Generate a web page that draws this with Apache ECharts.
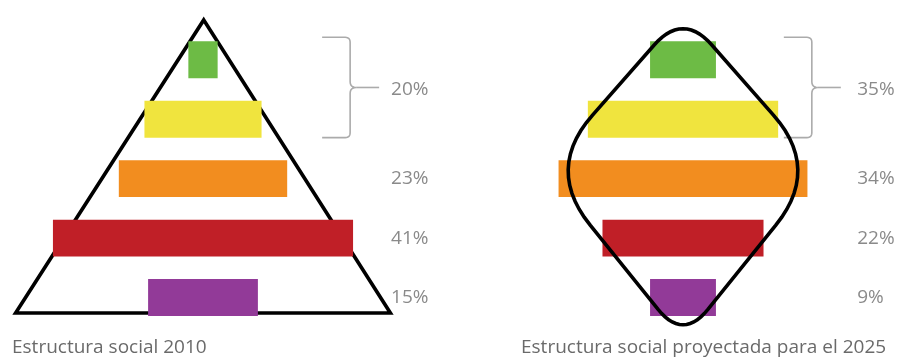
<!DOCTYPE html>
<html>
<head>
<meta charset="utf-8">
<script src="https://cdn.jsdelivr.net/npm/echarts@6/dist/echarts.min.js"></script>
<style>
  html, body { margin: 0; padding: 0; background: #fff; }
  #chart { width: 898px; height: 357px; }
</style>
</head>
<body>
<div id="chart"></div>
<script>
// Social strata, top to bottom
const strata = ['Alta', 'Media alta', 'Media', 'Media baja', 'Baja'];
// Share of population per stratum (%)
const values2010 = [4, 16, 23, 41, 15];
const values2025 = [9, 26, 34, 22, 9];
// Strata whose shares are reported together in one label
const labelGroups = [[0, 1], [2], [3], [4]];
const barColors = ['#6dbb45', '#f0e43e', '#f28d1f', '#c01f27', '#923a98'];
const titles = ['Estructura social 2010', 'Estructura social proyectada para el 2025'];

// Outline shapes in axis units (x: % share, y: stratum row); corner rounding in px
const triangleOutline = { points: [[0.1, -0.67], [25.6, 4.26], [-25.6, 4.26]], round: [0, 0, 0], above: false };
const diamondOutline = { points: [[0, -0.8], [18.85, 1.84], [0, 4.72], [-18.85, 1.84]], round: [44, 72, 40, 72], above: true };

const panels = [
  { values: values2010, gridLeft: 5.36, braceX: 20.1, labelX: 25.7, outline: triangleOutline, title: titles[0], titleLeft: 12 },
  { values: values2025, gridLeft: 485.36, braceX: 17.6, labelX: 23.8, outline: diamondOutline, title: titles[1], titleLeft: 521 }
];

const LABEL_COLOR = '#8a8a8a';
const BRACE_COLOR = '#ababab';
const FONT = '"Open Sans", "Noto Sans", sans-serif';

function quadPoints(p0, c, p1, n) {
  const out = [];
  for (let k = 1; k <= n; k++) {
    const t = k / n, u = 1 - t;
    out.push([u * u * p0[0] + 2 * u * t * c[0] + t * t * p1[0],
              u * u * p0[1] + 2 * u * t * c[1] + t * t * p1[1]]);
  }
  return out;
}

// Closed polygon with rounded corners (quadratic corners of given reach in px)
function roundedPolygon(pts, round) {
  const n = pts.length;
  const out = [];
  const toward = (p, q, d) => {
    const dx = q[0] - p[0], dy = q[1] - p[1];
    const len = Math.hypot(dx, dy);
    return [p[0] + dx / len * d, p[1] + dy / len * d];
  };
  for (let k = 0; k < n; k++) {
    const p = pts[k], prev = pts[(k - 1 + n) % n], next = pts[(k + 1) % n];
    const d = round[k];
    if (!d) { out.push(p); continue; }
    const a = toward(p, prev, d), b = toward(p, next, d);
    out.push(a);
    out.push(...quadPoints(a, p, b, 14));
  }
  return out;
}

function renderBar(params, api) {
  const row = api.value(0), v = api.value(1);
  const a = api.coord([-v / 2, row]);
  const b = api.coord([v / 2, row]);
  const h = Math.abs(api.size([0, 1])[1]) * 0.62;
  return {
    type: 'rect',
    shape: { x: a[0], y: a[1] - h / 2, width: b[0] - a[0], height: h },
    style: { fill: barColors[row] }
  };
}

function makeOutlineRender(outline) {
  return function (params, api) {
    const px = outline.points.map(p => api.coord(p));
    return {
      type: 'polygon',
      shape: { points: roundedPolygon(px, outline.round) },
      style: { fill: 'none', stroke: '#000', lineWidth: 3.6, lineJoin: 'miter', miterLimit: 10 }
    };
  };
}

function makeLabelRender(panel) {
  return function (params, api) {
    const share = api.value(0), row = api.value(1);
    const p = api.coord([panel.labelX, row]);
    return {
      type: 'text',
      x: p[0], y: p[1],
      style: {
        text: share + '%', fill: LABEL_COLOR, fontSize: 19, fontFamily: FONT,
        align: 'left', verticalAlign: 'middle'
      }
    };
  };
}

function makeBraceRender(panel) {
  return function (params, api) {
    const r0 = api.value(0), r1 = api.value(1);
    const half = Math.abs(api.size([0, 1])[1]) * 0.31;
    const xv = api.coord([panel.braceX, r0])[0];
    const top = api.coord([0, r0])[1] - half - 4;
    const bottom = api.coord([0, r1])[1] + half;
    const mid = (top + bottom) / 2;
    const xl = xv - 28, xe = xv + 29;
    const pts = [[xl, top], [xv - 5, top]];
    pts.push(...quadPoints([xv - 5, top], [xv, top], [xv, top + 5], 6));
    pts.push([xv, mid - 6]);
    pts.push(...quadPoints([xv, mid - 6], [xv, mid], [xv + 6, mid], 6));
    pts.push(...quadPoints([xv + 6, mid], [xv, mid], [xv, mid + 6], 6));
    pts.push([xv, bottom - 5]);
    pts.push(...quadPoints([xv, bottom - 5], [xv, bottom], [xv - 5, bottom], 6));
    pts.push([xl, bottom]);
    return {
      type: 'group',
      children: [
        { type: 'polyline', shape: { points: pts }, style: { fill: 'none', stroke: BRACE_COLOR, lineWidth: 1.6 } },
        { type: 'line', shape: { x1: xv + 6, y1: mid, x2: xe, y2: mid }, style: { stroke: BRACE_COLOR, lineWidth: 1.6 } }
      ]
    };
  };
}

const grids = [], xAxes = [], yAxes = [], series = [], titleList = [];
panels.forEach((panel, p) => {
  grids.push({ left: panel.gridLeft, width: 395.28, top: 0.3, height: 358.2 });
  xAxes.push({ type: 'value', gridIndex: p, min: -27, max: 27, show: false, splitLine: { show: false } });
  yAxes.push({ type: 'value', gridIndex: p, min: -1, max: 5, inverse: true, show: false, splitLine: { show: false } });

  const labelData = labelGroups.map(g => [
    g.reduce((s, i) => s + panel.values[i], 0),
    (g[0] + g[g.length - 1]) / 2
  ]);
  const braceData = labelGroups.filter(g => g.length > 1).map(g => [g[0], g[g.length - 1]]);

  series.push({
    type: 'custom', name: 'outline', xAxisIndex: p, yAxisIndex: p, clip: false, silent: true,
    z: panel.outline.above ? 4 : 1,
    renderItem: makeOutlineRender(panel.outline), data: [[0, 0]]
  });
  series.push({
    type: 'custom', name: 'strata', xAxisIndex: p, yAxisIndex: p, clip: false, z: 2,
    renderItem: renderBar, data: panel.values.map((v, i) => [i, v])
  });
  series.push({
    type: 'custom', name: 'brace', xAxisIndex: p, yAxisIndex: p, clip: false, silent: true, z: 3,
    renderItem: makeBraceRender(panel), data: braceData
  });
  series.push({
    type: 'custom', name: 'share', xAxisIndex: p, yAxisIndex: p, clip: false, silent: true, z: 3,
    renderItem: makeLabelRender(panel), data: labelData
  });

  titleList.push({
    text: panel.title, left: panel.titleLeft, top: 336, padding: 0,
    textStyle: { fontFamily: FONT, fontSize: 19, fontWeight: 'normal', color: '#6a6a6a', lineHeight: 23 }
  });
});

const chart = echarts.init(document.getElementById('chart'), null, { renderer: 'canvas' });
chart.setOption({
  animation: false,
  backgroundColor: '#ffffff',
  title: titleList,
  grid: grids,
  xAxis: xAxes,
  yAxis: yAxes,
  series: series
});
</script>
</body>
</html>
